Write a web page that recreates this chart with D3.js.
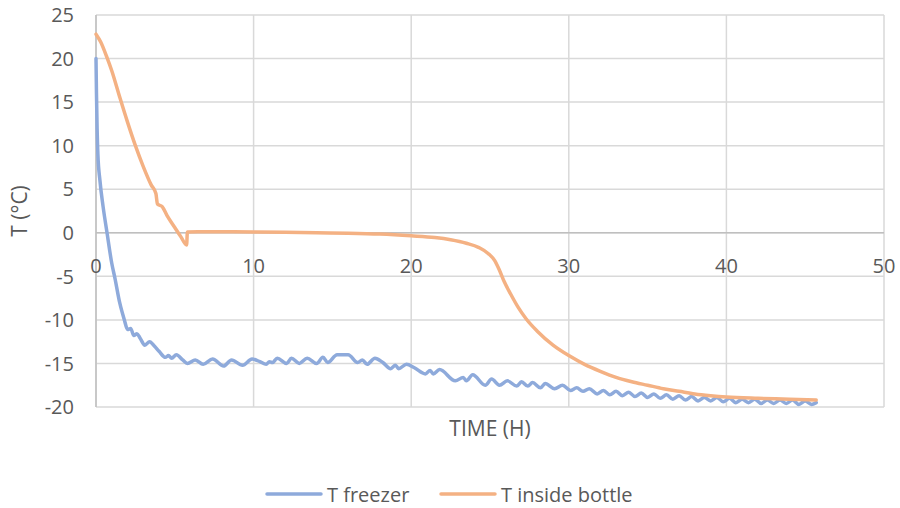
<!DOCTYPE html>
<html><head><meta charset="utf-8">
<script src="https://cdn.jsdelivr.net/npm/d3@7"></script>
<style>body{margin:0;background:#fff}svg{display:block}</style>
</head><body>
<svg id="c" width="900" height="508"></svg>
<script>
const seriesNames = ["T freezer", "T inside bottle"];
const seriesColors = ["#8eaadb", "#f4b183"];
const xTicks = [0, 10, 20, 30, 40, 50];
const yTicks = [25, 20, 15, 10, 5, 0, -5, -10, -15, -20];
const freezer = [[0,20],[0.03,16],[0.07,12],[0.12,9],[0.25,6],[0.45,3],[0.7,0],[1.0,-3.5],[1.2,-5.2],[1.5,-8],[1.8,-10],[2.0,-11.1],[2.2,-11.0],[2.4,-11.8],[2.6,-11.6],[2.8,-12.1],[3.1,-12.9],[3.4,-12.5],[3.7,-13.0],[4.0,-13.6],[4.4,-14.3],[4.6,-14.1],[4.8,-14.4],[5.1,-14.0],[5.5,-14.6],[5.8,-15.0],[6.3,-14.6],[6.8,-15.1],[7.4,-14.5],[8.1,-15.3],[8.6,-14.6],[9.3,-15.2],[9.9,-14.5],[10.4,-14.8],[10.8,-15.1],[11.0,-14.8],[11.2,-14.9],[11.5,-14.4],[12.1,-15.0],[12.4,-14.4],[12.9,-15.0],[13.4,-14.4],[14.0,-15.0],[14.4,-14.3],[14.7,-14.9],[15.3,-14.0],[16.0,-14.0],[16.6,-14.9],[16.9,-14.6],[17.2,-15.1],[17.7,-14.4],[18.2,-14.9],[18.7,-15.6],[19.0,-15.2],[19.2,-15.6],[19.7,-15.1],[20.2,-15.5],[20.9,-16.2],[21.2,-15.8],[21.4,-16.2],[21.8,-15.7],[22.8,-17.0],[23.3,-16.6],[23.5,-17.0],[23.9,-16.3],[24.7,-17.5],[25.1,-16.8],[25.6,-17.5],[26.1,-17.0],[26.7,-17.6],[27.0,-17.1],[27.4,-17.6],[27.7,-17.2],[28.2,-17.8],[28.5,-17.3],[29.1,-17.9],[29.6,-17.5],[30.1,-18.1],[30.5,-17.8],[30.9,-18.2],[31.3,-17.9],[31.8,-18.5],[32.2,-18.1],[32.6,-18.6],[33.0,-18.2],[33.4,-18.7],[33.8,-18.3],[34.2,-18.8],[34.6,-18.4],[35.0,-18.9],[35.4,-18.5],[35.8,-19.0],[36.2,-18.6],[36.6,-19.1],[37.0,-18.7],[37.4,-19.2],[37.8,-18.8],[38.2,-19.3],[38.6,-18.9],[39.0,-19.3],[39.4,-18.9],[39.8,-19.4],[40.2,-19.0],[40.6,-19.5],[41.0,-19.1],[41.4,-19.5],[41.8,-19.1],[42.2,-19.6],[42.6,-19.2],[43.0,-19.6],[43.4,-19.2],[43.8,-19.6],[44.2,-19.2],[44.6,-19.7],[45.0,-19.3],[45.4,-19.7],[45.7,-19.5]];
const bottle = [[0,22.8],[0.3,21.9],[0.7,20.1],[1.0,18.6],[1.5,15.6],[2.0,12.7],[2.5,10.0],[3.0,7.6],[3.5,5.5],[3.8,4.5],[3.9,3.3],[4.2,3.0],[4.5,2.0],[5.0,0.6],[5.4,-0.5],[5.75,-1.4],[5.8,0.1],[8,0.12],[10,0.1],[12,0.05],[14,0.0],[16,-0.05],[18,-0.15],[20,-0.35],[21.5,-0.55],[22.5,-0.8],[23.5,-1.2],[24.3,-1.7],[24.9,-2.4],[25.3,-3.2],[25.6,-4.3],[25.9,-5.6],[26.3,-7.0],[26.8,-8.6],[27.3,-9.9],[28,-11.3],[29,-12.9],[30,-14.1],[31,-15.1],[32,-15.9],[33,-16.6],[34,-17.1],[35,-17.5],[36,-17.9],[37,-18.2],[38,-18.5],[39,-18.7],[40,-18.85],[42,-19.0],[44,-19.1],[45.7,-19.2]];

const svg = d3.select("#c");
const font = "'Open Sans', sans-serif";
const x = d3.scaleLinear().domain([0, 50]).range([96, 884]);
const y = d3.scaleLinear().domain([-20, 25]).range([407, 15]);

// gridlines
svg.append("g").selectAll("line").data(yTicks).join("line")
  .attr("x1", x(0)).attr("x2", x(50)).attr("y1", d => y(d)).attr("y2", d => y(d))
  .attr("stroke", "#d9d9d9").attr("stroke-width", 1.5);
svg.append("g").selectAll("line").data(xTicks).join("line")
  .attr("x1", d => x(d)).attr("x2", d => x(d)).attr("y1", y(25)).attr("y2", y(-20))
  .attr("stroke", "#d9d9d9").attr("stroke-width", 1.5);

// axes lines
svg.append("line").attr("x1", x(0)).attr("x2", x(50)).attr("y1", y(0)).attr("y2", y(0))
  .attr("stroke", "#bfbfbf").attr("stroke-width", 1.5);
svg.append("line").attr("x1", x(0)).attr("x2", x(0)).attr("y1", y(25)).attr("y2", y(-20))
  .attr("stroke", "#bfbfbf").attr("stroke-width", 1.5);

// tick labels
svg.append("g").selectAll("text").data(yTicks).join("text")
  .attr("x", 74).attr("y", d => y(d)).attr("dy", "0.36em").attr("text-anchor", "end")
  .attr("font-family", font).attr("font-size", 20).attr("fill", "#595959").text(d => d);
svg.append("g").selectAll("text").data(xTicks).join("text")
  .attr("x", d => x(d)).attr("y", y(0) + 40).attr("text-anchor", "middle")
  .attr("font-family", font).attr("font-size", 20).attr("fill", "#595959").text(d => d);

// axis titles
svg.append("text").attr("x", 490).attr("y", 436).attr("text-anchor", "middle")
  .attr("font-family", font).attr("font-size", 21).attr("fill", "#595959").text("TIME (H)");
svg.append("text").attr("transform", "translate(27,211) rotate(-90)").attr("text-anchor", "middle")
  .attr("font-family", font).attr("font-size", 21).attr("fill", "#595959").text("T (°C)");

// lines
const line = d3.line().x(d => x(d[0])).y(d => y(d[1])).curve(d3.curveMonotoneX);
[freezer, bottle].forEach((data, i) => {
  svg.append("path").datum(data).attr("d", line).attr("fill", "none")
    .attr("stroke", seriesColors[i]).attr("stroke-width", 3.5)
    .attr("stroke-linejoin", "round").attr("stroke-linecap", "round");
});

// legend
const legX = [267, 441];
seriesNames.forEach((n, i) => {
  svg.append("line").attr("x1", legX[i]).attr("x2", legX[i] + 54).attr("y1", 494).attr("y2", 494)
    .attr("stroke", seriesColors[i]).attr("stroke-width", 3.5).attr("stroke-linecap", "round");
  svg.append("text").attr("x", legX[i] + 60).attr("y", 502)
    .attr("font-family", font).attr("font-size", 20).attr("fill", "#595959").text(n);
});
</script>
</body></html>
